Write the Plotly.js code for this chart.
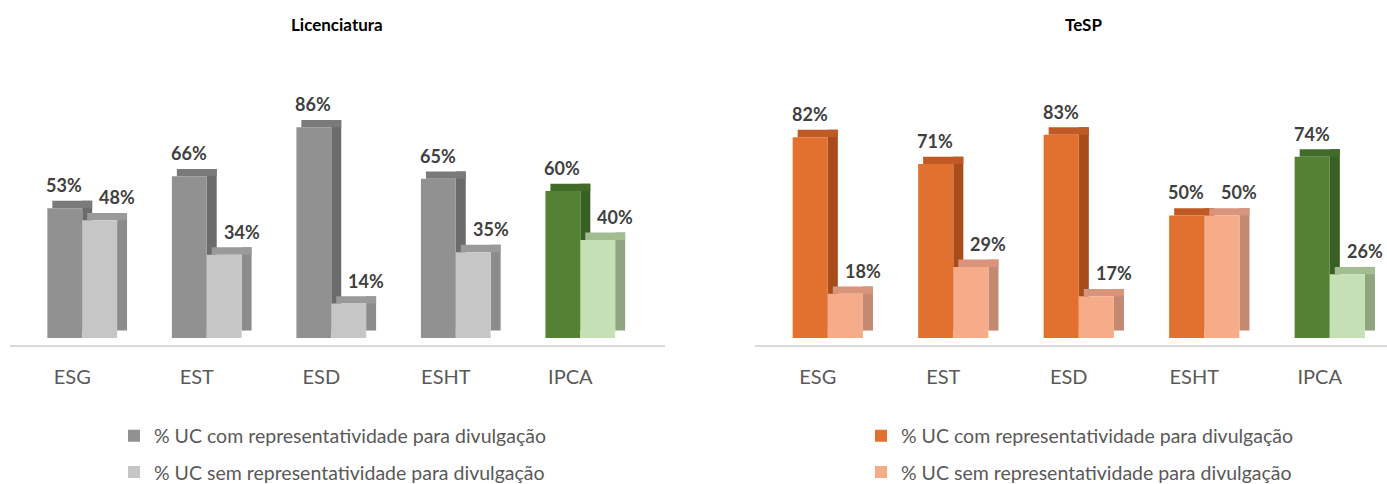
<!DOCTYPE html>
<html>
<head>
<meta charset="utf-8">
<script src="https://cdn.plot.ly/plotly-3.0.1.min.js"></script>
<style>html,body{margin:0;padding:0;background:#fff;}#chart{width:1387px;height:484px;}</style>
</head>
<body>
<div id="chart"></div>
<script>
// ---- data ----
const categories = ['ESG', 'EST', 'ESD', 'ESHT', 'IPCA'];
const licCom = [53, 66, 86, 65, 60];
const licSem = [48, 34, 14, 35, 40];
const tespCom = [82, 71, 83, 50, 74];
const tespSem = [18, 29, 17, 50, 26];
const seriesNames = ['% UC com representatividade para divulgação', '% UC sem representatividade para divulgação'];
const chartTitles = ['Licenciatura', 'TeSP'];

// ---- style ----
const FONT = 'Lato, "Open Sans", sans-serif';
const pal = {
  licCom: {front: '#919191', side: '#6b6b6b', top: '#7a7a7a'},
  licSem: {front: '#c6c6c6', side: '#8c8c8c', top: '#9a9a9a'},
  tespCom: {front: '#e2702f', side: '#a84c1c', top: '#bf5a24'},
  tespSem: {front: '#f6ab89', side: '#c48973', top: '#d8957c'},
  ipcaCom: {front: '#548235', side: '#3a5f24', top: '#416b29'},
  ipcaSem: {front: '#c5e0b4', side: '#8ea57f', top: '#a3bd93'}
};
const W = 0.28, OFF1 = -0.2, OFF2 = 0.08, SIDE = 0.08, LIFT = 3;

function colors(key, ipcaKey, part) {
  return categories.map(c => c === 'IPCA' ? pal[ipcaKey][part] : pal[key][part]);
}

function barSet(vals, key, ipcaKey, offset, xa, ya, name, legend, group) {
  const side = {
    type: 'bar', x: categories, y: vals, base: LIFT, xaxis: xa, yaxis: ya,
    offset: offset + W, width: SIDE, showlegend: false, hoverinfo: 'skip',
    marker: {color: colors(key, ipcaKey, 'side'), line: {width: 0}}
  };
  const top = {
    type: 'bar', x: categories, y: vals.map(() => LIFT), base: vals, xaxis: xa, yaxis: ya,
    offset: offset + SIDE / 2, width: W + SIDE / 2, showlegend: false, hoverinfo: 'skip',
    marker: {color: colors(key, ipcaKey, 'top'), line: {width: 0}}
  };
  const front = {
    type: 'bar', x: categories, y: vals, xaxis: xa, yaxis: ya, name: name,
    offset: offset, width: W, legend: legend, legendgroup: group,
    marker: {color: colors(key, ipcaKey, 'front'), line: {width: 0}}
  };
  return [side, top, front];
}

const traces = [].concat(
  barSet(licCom, 'licCom', 'ipcaCom', OFF1, 'x', 'y', seriesNames[0], 'legend', 'a'),
  barSet(licSem, 'licSem', 'ipcaSem', OFF2, 'x', 'y', seriesNames[1], 'legend', 'b'),
  barSet(tespCom, 'tespCom', 'ipcaCom', OFF1, 'x2', 'y2', seriesNames[0], 'legend2', 'c'),
  barSet(tespSem, 'tespSem', 'ipcaSem', OFF2, 'x2', 'y2', seriesNames[1], 'legend2', 'd')
);

const annotations = [];
function labels(vals, xref, yref, dx) {
  vals.forEach((v, i) => annotations.push({
    x: i + dx, y: v, xref: xref, yref: yref, text: v + '%', showarrow: false,
    yanchor: 'bottom', xanchor: 'center', yshift: 10,
    font: {family: FONT, size: 18, color: '#404040', weight: 'bold'}
  }));
}
labels(licCom, 'x', 'y', -0.065);
labels(licSem, 'x', 'y', 0.36);
labels(tespCom, 'x2', 'y2', -0.065);
labels(tespSem, 'x2', 'y2', 0.36);
[[chartTitles[0], 0.243], [chartTitles[1], 0.781]].forEach(t => annotations.push({
  text: '<b>' + t[0] + '</b>', x: t[1], y: 1.123, xref: 'paper', yref: 'paper',
  showarrow: false, xanchor: 'center', yanchor: 'middle',
  font: {family: FONT, size: 17, color: '#000000'}
}));

const xaxisBase = {
  type: 'category', showgrid: false, zeroline: false, showline: true,
  linecolor: '#d9d9d9', linewidth: 1.5, ticks: '', ticklabelstandoff: 13,
  tickfont: {family: FONT, size: 20, color: '#595959'}, fixedrange: true
};
const yaxisBase = {visible: false, range: [-2.9, 113.5], fixedrange: true};
const legendBase = {
  orientation: 'v', yanchor: 'top', xanchor: 'left', y: -0.251,
  font: {family: FONT, size: 19.5, color: '#595959'}, tracegroupgap: 8,
  bgcolor: 'rgba(0,0,0,0)'
};

const layout = {
  width: 1387, height: 484, paper_bgcolor: '#ffffff', plot_bgcolor: '#ffffff',
  margin: {l: 0, r: 0, t: 60, b: 139, autoexpand: false},
  barmode: 'overlay', showlegend: true,
  xaxis: Object.assign({}, xaxisBase, {domain: [10 / 1387, 665 / 1387], range: [-0.5, 4.76], anchor: 'y'}),
  yaxis: Object.assign({}, yaxisBase, {anchor: 'x'}),
  xaxis2: Object.assign({}, xaxisBase, {domain: [755 / 1387, 1], range: [-0.5, 4.536], anchor: 'y2'}),
  yaxis2: Object.assign({}, yaxisBase, {anchor: 'x2'}),
  legend: Object.assign({}, legendBase, {x: 114 / 1387}),
  legend2: Object.assign({}, legendBase, {x: 861 / 1387}),
  annotations: annotations
};

Plotly.newPlot('chart', traces, layout, {displayModeBar: false, staticPlot: true});
</script>
</body>
</html>
